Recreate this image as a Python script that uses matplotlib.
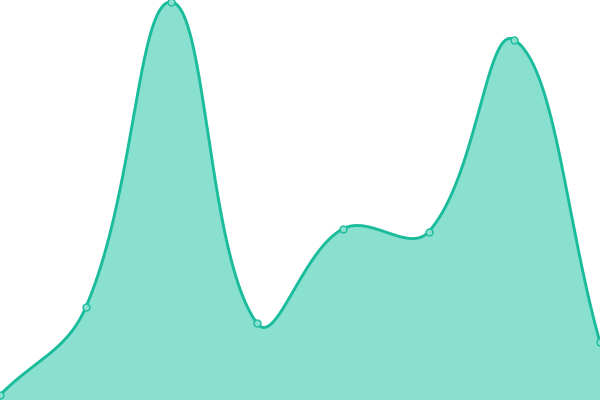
import numpy as np
import matplotlib
matplotlib.use("Agg")
import matplotlib.pyplot as plt

categories = ["A", "B", "C", "D", "E", "F", "G", "H"]
values = [5, 93, 400, 77, 172, 169, 362, 58]

line_color = "#1abc9c"
fill_color = "#8ae0cf"


def spline_pixels(P, t=0.4, n=80):
    """Chart.js-style spline (tension t) computed in pixel space."""
    N = len(P)
    cps = []
    for i in range(N):
        cur = P[i]
        prev = P[i - 1] if i > 0 else cur
        nxt = P[i + 1] if i < N - 1 else cur
        d01 = np.hypot(*(cur - prev))
        d12 = np.hypot(*(nxt - cur))
        tot = d01 + d12
        s01 = d01 / tot if tot else 0
        s12 = d12 / tot if tot else 0
        fa, fb = t * s01, t * s12
        cps.append((cur - fa * (nxt - prev), cur + fb * (nxt - prev)))
    out = []
    tt = np.linspace(0, 1, n)[:, None]
    for i in range(N - 1):
        p1, p2 = P[i], P[i + 1]
        c1, c2 = cps[i][1], cps[i + 1][0]
        b = (1 - tt) ** 3 * p1 + 3 * (1 - tt) ** 2 * tt * c1 + 3 * (1 - tt) * tt ** 2 * c2 + tt ** 3 * p2
        out.append(b)
    return np.vstack(out)


x = np.arange(len(categories))

fig = plt.figure(figsize=(6, 4), dpi=100)
ax = fig.add_axes([0, 0, 1, 1])
ax.set_xlim(0, len(categories) - 1)
ax.set_ylim(0, 402)
ax.axis("off")

pix = ax.transData.transform(np.column_stack([x, values]))
curve_pix = spline_pixels(pix, t=0.4)
curve = ax.transData.inverted().transform(curve_pix)
sx, sy = curve[:, 0], curve[:, 1]

ax.fill_between(sx, sy, 0, color=fill_color, linewidth=0)
ax.plot(sx, sy, color=line_color, linewidth=2.1, solid_capstyle="round")
ax.plot(x, values, linestyle="none", marker="o", markersize=5,
        markerfacecolor=fill_color, markeredgecolor=line_color, markeredgewidth=1)
fig.savefig("out.png", dpi=100)
